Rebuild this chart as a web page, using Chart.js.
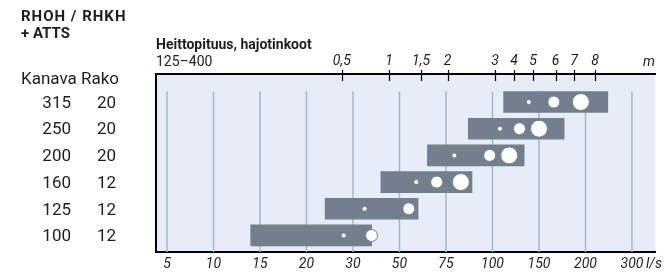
<!DOCTYPE html>
<html><head><meta charset="utf-8">
<script src="https://cdn.jsdelivr.net/npm/chart.js@4/dist/chart.umd.min.js"></script>
<style>html,body{margin:0;padding:0;background:#fff;}#wrap{width:664px;height:280px;position:relative}</style>
</head><body><div id="wrap"><canvas id="c" width="664" height="280"></canvas></div>
<script>
// Flow axis (l/s) tick values, equally spaced on the chart
const flowTicks = [5, 10, 15, 20, 30, 50, 75, 100, 150, 200, 300];
// Throw length axis (m) labels and the flow at which each sits
const throwLabels = ['0,5', '1', '1,5', '2', '3', '4', '5', '6', '7', '8'];
const throwAtFlow = [27.6, 45.5, 61.6, 75.9, 102.7, 123.1, 143.5, 167.9, 187.6, 220.4];
// Rows: duct size and slot
const ducts = ['315', '250', '200', '160', '125', '100'];
const slots = ['20', '20', '20', '12', '12', '12'];
// Bar range in l/s
const flowMin = [112, 87, 65, 42, 24, 14];
const flowMax = [248, 177, 134, 89, 60, 38];
// Diffuser markers: flow (l/s) and diffuser size
const dotFlows = [[139, 166, 195], [108, 129, 150], [79.5, 98.5, 118], [59, 70, 83], [35, 55], [28, 38]];
const dotSizes = [[125, 250, 400], [125, 250, 400], [125, 250, 400], [125, 250, 400], [125, 250], [125, 250]];

const RADIUS = {125: 2.5, 250: 6, 400: 8.5};
const BAR = '#737f8c', BG = '#e6edf8', GRID = '#aab6c5', INK = '#1e1e1e';

function flowToIdx(f) {
  let i = 0;
  while (i < flowTicks.length - 2 && f > flowTicks[i + 1]) i++;
  const a = flowTicks[i], b = flowTicks[i + 1];
  return i + (f - a) / (b - a);
}

const barData = ducts.map((d, i) => ({x: [flowToIdx(flowMin[i]), flowToIdx(flowMax[i])], y: i}));
const dotData = [], dotRadii = [];
dotFlows.forEach((row, i) => row.forEach((f, j) => {
  dotData.push({x: flowToIdx(f), y: i});
  dotRadii.push(RADIUS[dotSizes[i][j]]);
}));

const X_MIN = -0.2366, X_MAX = 10.495;
const tickFont = {family: 'Roboto', size: 14, style: 'italic'};

const decor = {
  id: 'decor',
  beforeDraw(chart) {
    const {ctx, chartArea: a} = chart;
    ctx.save();
    ctx.fillStyle = BG;
    ctx.fillRect(a.left, a.top, a.right - a.left, a.bottom - a.top);
    ctx.restore();
  },
  beforeDatasetsDraw(chart) {
    const {ctx, chartArea: a, scales} = chart;
    const top = scales.y.getPixelForValue(0) - 10.5;
    ctx.save();
    ctx.strokeStyle = GRID;
    ctx.lineWidth = 1.5;
    scales.x.ticks.forEach(t => {
      const x = scales.x.getPixelForValue(t.value);
      ctx.beginPath(); ctx.moveTo(x, top); ctx.lineTo(x, a.bottom); ctx.stroke();
    });
    ctx.restore();
  },
  afterDraw(chart) {
    const {ctx, chartArea: a, scales} = chart;
    ctx.save();
    ctx.strokeStyle = '#000';
    ctx.lineWidth = 1.2;
    scales.x2.ticks.forEach(t => {
      const x = Math.round(scales.x2.getPixelForValue(t.value)) + 0.5;
      ctx.beginPath(); ctx.moveTo(x, a.top - 4); ctx.lineTo(x, a.top + 7); ctx.stroke();
    });
    ctx.fillStyle = INK;
    ctx.textBaseline = 'middle';
    ctx.textAlign = 'left';
    ctx.font = 'bold 15px Roboto';
    if ('letterSpacing' in ctx) ctx.letterSpacing = '1px';
    ctx.fillText('RHOH / RHKH', 21, 17);
    if ('letterSpacing' in ctx) ctx.letterSpacing = '0px';
    ctx.fillText('+ ATTS', 21, 34);
    ctx.font = 'bold 14px Roboto';
    ctx.fillText('Heittopituus, hajotinkoot', 156, 45);
    ctx.font = '14px Roboto';
    ctx.fillText('125–400', 156, 62);
    ctx.font = '17px Roboto';
    ctx.fillText('Kanava Rako', 21, 80);
    ducts.forEach((d, i) => {
      const y = scales.y.getPixelForValue(i) + 1.5;
      ctx.textAlign = 'right';
      ctx.fillText(d, 71, y);
      ctx.fillText(slots[i], 116, y);
    });
    ctx.font = 'italic 14px Roboto';
    ctx.textAlign = 'right';
    ctx.fillText('m', a.right, 62);
    ctx.textAlign = 'left';
    ctx.fillText('l/s', scales.x.getPixelForValue(flowTicks.length - 1) + 14, 264.5);
    ctx.restore();
  }
};

new Chart(document.getElementById('c'), {
  type: 'bar',
  data: {
    datasets: [
      {type: 'bar', data: barData, backgroundColor: BAR, barThickness: 21, borderWidth: 0,
       xAxisID: 'x', yAxisID: 'y', order: 2},
      {type: 'line', showLine: false, data: dotData, pointRadius: dotRadii, pointHoverRadius: dotRadii,
       pointBackgroundColor: '#ffffff', pointBorderColor: BAR, pointBorderWidth: 1,
       xAxisID: 'x', yAxisID: 'y', order: 1}
    ]
  },
  options: {
    indexAxis: 'y',
    responsive: false,
    animation: false,
    events: [],
    layout: {padding: {left: 156, right: 9, top: 50, bottom: 6}},
    plugins: {legend: {display: false}, tooltip: {enabled: false}},
    scales: {
      x: {
        type: 'linear', position: 'bottom', min: X_MIN, max: X_MAX, offset: false,
        afterBuildTicks: s => { s.ticks = flowTicks.map((f, i) => ({value: i})); },
        ticks: {callback: (v, i) => String(flowTicks[i]), autoSkip: false, maxRotation: 0,
                font: tickFont, color: INK, padding: 4},
        grid: {display: false, drawTicks: false},
        border: {display: true, color: '#000', width: 2},
        afterFit: s => { s.height = 22; }
      },
      x2: {
        type: 'linear', position: 'top', min: X_MIN, max: X_MAX, offset: false,
        afterBuildTicks: s => { s.ticks = throwAtFlow.map(f => ({value: flowToIdx(f)})); },
        ticks: {callback: (v, i) => throwLabels[i], autoSkip: false, maxRotation: 0,
                font: tickFont, color: INK, padding: 4},
        grid: {display: false, drawTicks: false},
        border: {display: true, color: '#000', width: 2},
        afterFit: s => { s.height = 24; }
      },
      y: {
        type: 'linear', reverse: true, min: -1.05, max: 5.62, offset: false,
        ticks: {display: false},
        grid: {display: false, drawTicks: false, offset: false},
        border: {display: true, color: '#000', width: 2},
        afterFit: s => { s.width = 0; }
      }
    }
  },
  plugins: [decor]
});
</script></body></html>
